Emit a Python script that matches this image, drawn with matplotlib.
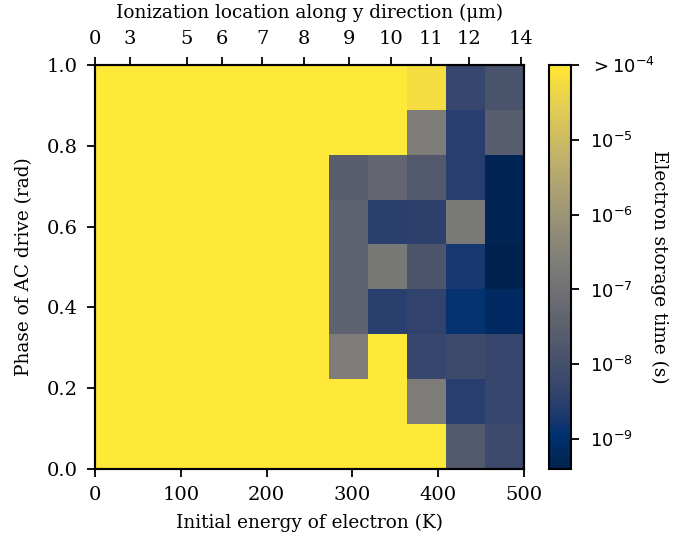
import numpy as np
import matplotlib
matplotlib.use("Agg")
import matplotlib.pyplot as plt
from matplotlib.colors import LogNorm

plt.rcParams['font.family'] = 'DejaVu Serif'
plt.rcParams['mathtext.fontset'] = 'dejavusans'

# Initial energy (K) bin edges and phase bin edges
energy_edges = np.linspace(0, 500, 12)
phase_edges = np.linspace(0, 1, 10)

Y = 1e-3  # storage time exceeding 1e-4 s (saturated)
# storage time (s), rows from phase 0 (bottom) to 1 (top), columns by energy
storage = np.array([
    [Y, Y, Y, Y, Y, Y, Y,      Y,      Y,      2e-8,   7e-9],
    [Y, Y, Y, Y, Y, Y, Y,      Y,      2e-7,   2.8e-9, 5e-9],
    [Y, Y, Y, Y, Y, Y, 2e-7,   Y,      5e-9,   7e-9,   5e-9],
    [Y, Y, Y, Y, Y, Y, 4e-8,   3e-9,   4e-9,   1.3e-9, 7e-10],
    [Y, Y, Y, Y, Y, Y, 4e-8,   1.6e-7, 1.4e-8, 1.8e-9, 4e-10],
    [Y, Y, Y, Y, Y, Y, 4e-8,   3e-9,   3.7e-9, 1.7e-7, 5e-10],
    [Y, Y, Y, Y, Y, Y, 2.5e-8, 4.5e-8, 1.9e-8, 2.8e-9, 5e-10],
    [Y, Y, Y, Y, Y, Y, Y,      Y,      2e-7,   2.8e-9, 2.5e-8],
    [Y, Y, Y, Y, Y, Y, Y,      Y,      6e-5,   5e-9,   1.3e-8],
])

bottom_ticks = [0, 100, 200, 300, 400, 500]
phase_ticks = [0.0, 0.2, 0.4, 0.6, 0.8, 1.0]
top_tick_pos = [0, 41, 107, 148, 195, 244, 296, 345, 392, 436, 496]
top_tick_labels = ['0', '3', '5', '6', '7', '8', '9', '10', '11', '12', '14']
cbar_ticks = [1e-9, 1e-8, 1e-7, 1e-6, 1e-5, 1e-4]
cbar_labels = [r'$10^{-9}$', r'$10^{-8}$', r'$10^{-7}$', r'$10^{-6}$', r'$10^{-5}$', r'$>10^{-4}$']

fig = plt.figure(figsize=(6.9, 5.39), dpi=100)
ax = fig.add_axes([0.1377, 0.130, 0.6217, 0.7495])
cax = fig.add_axes([0.7957, 0.130, 0.0319, 0.7495])

norm = LogNorm(vmin=4e-10, vmax=1e-4)
mesh = ax.pcolormesh(energy_edges, phase_edges, storage, cmap='cividis', norm=norm)

tfs = 14
lfs = 13.3
tkw = dict(labelsize=tfs, width=1.3, length=5.5, pad=7)
ax.set_xlim(0, 500)
ax.set_ylim(0, 1)
ax.set_xticks(bottom_ticks)
ax.set_yticks(phase_ticks)
ax.set_yticklabels([f'{t:.1f}' for t in phase_ticks])
ax.tick_params(**tkw)
ax.set_xlabel('Initial energy of electron (K)', fontsize=lfs, labelpad=7)
ax.set_ylabel('Phase of AC drive (rad)', fontsize=lfs, labelpad=10)
for s in ax.spines.values():
    s.set_linewidth(1.5)

ax2 = ax.twiny()
ax2.set_xlim(0, 500)
ax2.set_xticks(top_tick_pos)
ax2.set_xticklabels(top_tick_labels)
ax2.tick_params(**tkw)
ax2.set_xlabel('Ionization location along y direction (μm)', fontsize=lfs, labelpad=8)
for s in ax2.spines.values():
    s.set_linewidth(1.5)

cb = fig.colorbar(mesh, cax=cax)
cb.set_ticks(cbar_ticks)
cb.set_ticklabels(cbar_labels)
cb.ax.minorticks_off()
cb.ax.tick_params(labelsize=13, width=1.3, length=5.5, pad=8)
cb.outline.set_linewidth(1.5)
cb.set_label('Electron storage time (s)', rotation=270, labelpad=10, fontsize=lfs)

fig.savefig('out.png', dpi=100)
